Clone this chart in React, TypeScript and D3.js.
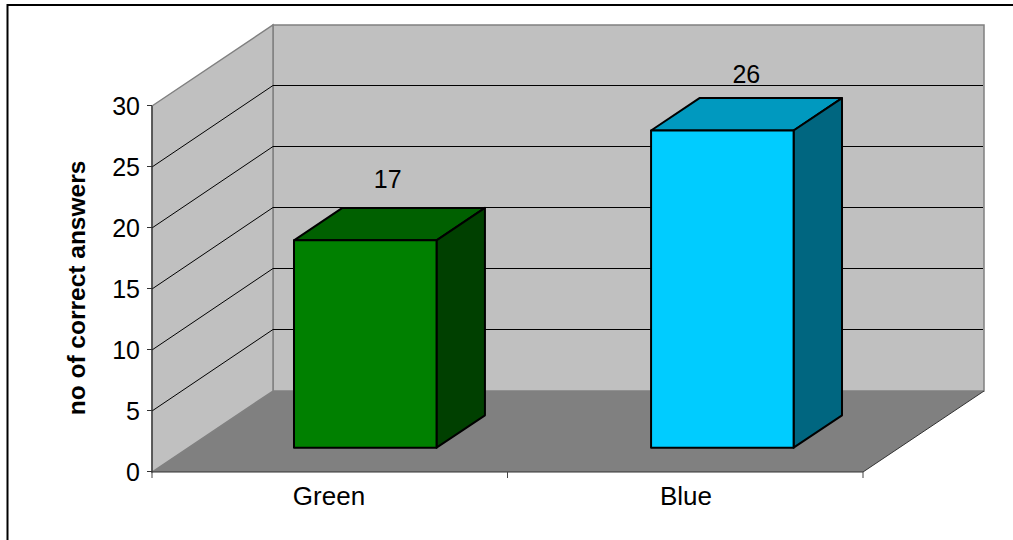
import React from "react";
import * as d3 from "d3";

const categories = ["Green", "Blue"];
const answers = [17, 26];
const frontColors = ["#008000", "#00ccff"];
const topColors = ["#006000", "#0099bf"];
const sideColors = ["#004000", "#006680"];
const yTicks = [0, 5, 10, 15, 20, 25, 30];

const FONT = "'Liberation Sans', Arial, sans-serif";

// Front plane of the 3D box, and the offset to its back plane
const x0 = 152;
const x1 = 863;
const yBase = 472;
const yTop = 106;
const depthX = 121;
const depthY = -81;
const barDepthStart = 0.3;
const barDepthEnd = 0.7;

// Value labels float above the bar's top face
const labelLift = [52.5, 47.5];
const labelShift = [22.5, 24];

const y = d3.scaleLinear().domain([0, 30]).range([yBase, yTop]);
const x = d3.scaleBand<string>().domain(categories).range([x0, x1]).paddingInner(0.6008).paddingOuter(0.296);

const poly = (pts: [number, number][]) => d3.line()(pts) + "Z";

export default function App() {
  // Half-pixel nudge keeps the horizontal gridlines one pixel wide
  const back = (v: number) => y(v) + depthY - 0.5;
  return (
    <svg
      width={1013}
      height={540}
      style={{ position: "absolute", left: 0, top: 0, fontFamily: FONT }}
    >
      <rect x={0} y={0} width={1013} height={540} fill="#fff" />
      <path d="M7.5,540V5H1013" fill="none" stroke="#000" strokeWidth={2} />

      {/* Walls and floor */}
      <path
        d={poly([[x0 + depthX, y(30) + depthY], [x0 + depthX + (x1 - x0), y(30) + depthY], [x0 + depthX + (x1 - x0), y(0) + depthY], [x0 + depthX, y(0) + depthY]])}
        fill="#c0c0c0"
        stroke="#808080"
        strokeWidth={1.5}
      />
      <path
        d={poly([[x0, y(30)], [x0 + depthX, y(30) + depthY], [x0 + depthX, y(0) + depthY], [x0, y(0)]])}
        fill="#c0c0c0"
        stroke="#808080"
        strokeWidth={1.5}
      />
      <path
        d={poly([[x0, y(0)], [x0 + depthX, y(0) + depthY], [x0 + depthX + (x1 - x0), y(0) + depthY], [x1, y(0)]])}
        fill="#808080"
      />

      {/* Gridlines run along the side wall and across the back wall */}
      {yTicks.filter((t) => t > 0 && t < 30).map((t) => (
        <path
          key={t}
          d={`M${x0},${y(t)}L${x0 + depthX},${back(t)}H${x0 + depthX + (x1 - x0) - 1}`}
          fill="none"
          stroke="#000"
          strokeWidth={1}
        />
      ))}

      {/* Axes */}
      <path d={`M${x0},${y(30)}V${y(0)}H${x1}`} fill="none" stroke="#333" strokeWidth={1.2} />
      <path d={`M${x1},${y(0)}L${x1 + depthX},${y(0) + depthY}`} fill="none" stroke="#333" strokeWidth={1} />
      {yTicks.map((t) => (
        <g key={t}>
          <line x1={x0 - 5} x2={x0} y1={y(t) - 0.5} y2={y(t) - 0.5} stroke="#333" strokeWidth={1} />
          <text x={x0 - 12} y={y(t) + 8.5} textAnchor="end" fontSize={25} fill="#000">
            {t}
          </text>
        </g>
      ))}
      {[x0, (x0 + x1) / 2, x1].map((px) => (
        <line key={px} x1={px} x2={px} y1={y(0)} y2={y(0) + 6} stroke="#444" strokeWidth={1} />
      ))}

      {/* Bars */}
      {categories.map((c, i) => {
        const v = answers[i];
        const dx0 = barDepthStart * depthX;
        const dy0 = barDepthStart * depthY;
        const dx1 = barDepthEnd * depthX;
        const dy1 = barDepthEnd * depthY;
        const l = x(c)! + dx0;
        const r = l + x.bandwidth();
        const b = y(0) + dy0;
        const t = y(v) + dy0;
        const ox = dx1 - dx0;
        const oy = dy1 - dy0;
        return (
          <g key={c} stroke="#000" strokeWidth={2} strokeLinejoin="round">
            <path d={poly([[l, t], [r, t], [r + ox, t + oy], [l + ox, t + oy]])} fill={topColors[i]} />
            <path d={poly([[r, t], [r + ox, t + oy], [r + ox, b + oy], [r, b]])} fill={sideColors[i]} />
            <rect x={l} y={t} width={r - l} height={b - t} fill={frontColors[i]} />
            <text
              x={l + (r - l) / 2 + labelShift[i]}
              y={t - labelLift[i]}
              textAnchor="middle"
              fontSize={25}
              fill="#000"
              stroke="none"
            >
              {v}
            </text>
          </g>
        );
      })}

      {/* Category labels */}
      {categories.map((c) => (
        <text key={c} x={x(c)! + x.bandwidth() / 2} y={505} textAnchor="middle" fontSize={26} fill="#000">
          {c}
        </text>
      ))}

      <text
        transform="translate(84.5,288) rotate(-90)"
        textAnchor="middle"
        fontSize={24.5}
        fontWeight="bold"
        fill="#000"
      >
        no of correct answers
      </text>
    </svg>
  );
}
